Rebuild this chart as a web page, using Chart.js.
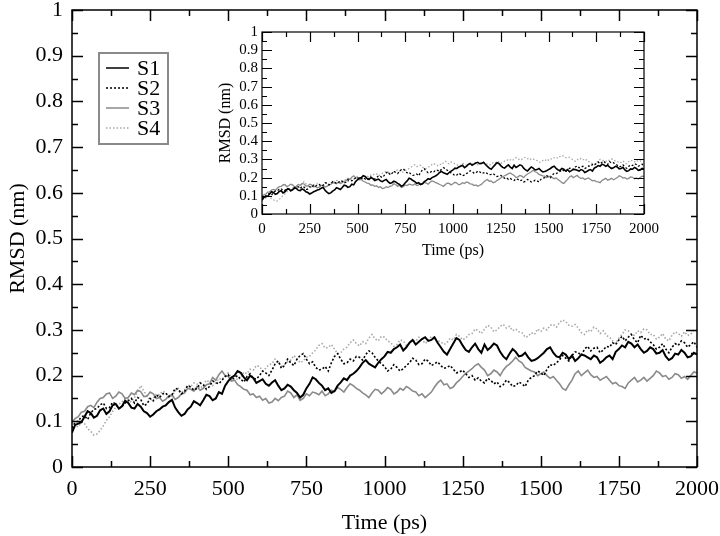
<!DOCTYPE html>
<html>
<head>
<meta charset="utf-8">
<script src="https://cdn.jsdelivr.net/npm/chart.js@4.4.0/dist/chart.umd.min.js"></script>
<style>
  html, body { margin: 0; padding: 0; background: #fff; }
  #wrap { position: relative; width: 720px; height: 536px; }
  #mainChart { position: absolute; left: 0; top: 0; }
  #insetChart { position: absolute; left: 205px; top: 20px; }
</style>
</head>
<body>
<div id="wrap">
  <canvas id="mainChart" width="720" height="536"></canvas>
  <canvas id="insetChart" width="470" height="240"></canvas>
</div>
<script>
// Sampling grid: one value every 10 ps, 0..2000
const times = [];
for (let i = 0; i <= 200; i++) times.push(i * 10);

const seriesNames = ['S1', 'S2', 'S3', 'S4'];

// RMSD (nm)
const s1 = [0.075, 0.092, 0.095, 0.098, 0.11, 0.122, 0.118, 0.108, 0.112, 0.124,
  0.128, 0.116, 0.122, 0.135, 0.138, 0.128, 0.133, 0.145, 0.14, 0.13,
  0.128, 0.138, 0.132, 0.122, 0.118, 0.11, 0.115, 0.122, 0.126, 0.132,
  0.135, 0.142, 0.147, 0.13, 0.12, 0.112, 0.116, 0.126, 0.132, 0.144,
  0.14, 0.135, 0.146, 0.158, 0.155, 0.146, 0.15, 0.164, 0.16, 0.178,
  0.188, 0.196, 0.2, 0.21, 0.206, 0.196, 0.19, 0.2, 0.195, 0.184,
  0.188, 0.192, 0.182, 0.178, 0.185, 0.19, 0.178, 0.168, 0.172, 0.18,
  0.176, 0.168, 0.162, 0.152, 0.158, 0.172, 0.182, 0.196, 0.192, 0.184,
  0.178, 0.168, 0.172, 0.162, 0.166, 0.178, 0.185, 0.194, 0.19, 0.2,
  0.204, 0.21, 0.218, 0.228, 0.234, 0.226, 0.222, 0.218, 0.228, 0.236,
  0.242, 0.252, 0.25, 0.258, 0.262, 0.268, 0.255, 0.262, 0.272, 0.278,
  0.268, 0.274, 0.28, 0.284, 0.276, 0.278, 0.284, 0.272, 0.262, 0.252,
  0.246, 0.258, 0.27, 0.282, 0.278, 0.266, 0.256, 0.252, 0.262, 0.27,
  0.258, 0.25, 0.268, 0.256, 0.262, 0.27, 0.266, 0.252, 0.242, 0.236,
  0.248, 0.258, 0.252, 0.242, 0.244, 0.25, 0.24, 0.232, 0.234, 0.238,
  0.244, 0.25, 0.258, 0.262, 0.25, 0.242, 0.24, 0.25, 0.246, 0.236,
  0.244, 0.232, 0.238, 0.246, 0.244, 0.24, 0.236, 0.244, 0.24, 0.228,
  0.233, 0.24, 0.244, 0.236, 0.252, 0.258, 0.266, 0.262, 0.274, 0.27,
  0.262, 0.268, 0.258, 0.25, 0.254, 0.262, 0.258, 0.248, 0.25, 0.256,
  0.242, 0.234, 0.238, 0.248, 0.246, 0.256, 0.25, 0.24, 0.242, 0.25,
  0.246];

const s2 = [0.085, 0.098, 0.1, 0.11, 0.112, 0.104, 0.118, 0.126, 0.128, 0.136,
  0.14, 0.128, 0.13, 0.142, 0.138, 0.128, 0.132, 0.14, 0.145, 0.15,
  0.14, 0.152, 0.148, 0.134, 0.138, 0.15, 0.145, 0.158, 0.152, 0.16,
  0.162, 0.154, 0.158, 0.172, 0.17, 0.16, 0.165, 0.178, 0.175, 0.168,
  0.172, 0.184, 0.18, 0.17, 0.176, 0.188, 0.185, 0.182, 0.19, 0.198,
  0.202, 0.19, 0.196, 0.2, 0.192, 0.186, 0.198, 0.204, 0.194, 0.192,
  0.2, 0.21, 0.206, 0.2, 0.212, 0.226, 0.232, 0.216, 0.222, 0.236,
  0.228, 0.222, 0.236, 0.244, 0.248, 0.236, 0.226, 0.23, 0.218, 0.212,
  0.214, 0.22, 0.21, 0.228, 0.242, 0.248, 0.236, 0.226, 0.228, 0.236,
  0.232, 0.242, 0.24, 0.234, 0.246, 0.254, 0.25, 0.24, 0.232, 0.226,
  0.22, 0.21, 0.214, 0.224, 0.218, 0.21, 0.215, 0.222, 0.228, 0.238,
  0.234, 0.224, 0.226, 0.236, 0.232, 0.222, 0.226, 0.23, 0.222, 0.216,
  0.218, 0.222, 0.214, 0.206, 0.208, 0.212, 0.204, 0.196, 0.2, 0.19,
  0.195, 0.188, 0.184, 0.194, 0.19, 0.182, 0.186, 0.176, 0.18, 0.19,
  0.185, 0.176, 0.178, 0.186, 0.182, 0.176, 0.19, 0.196, 0.2, 0.21,
  0.206, 0.2, 0.214, 0.224, 0.222, 0.228, 0.234, 0.244, 0.238, 0.232,
  0.244, 0.252, 0.25, 0.244, 0.258, 0.264, 0.254, 0.26, 0.262, 0.25,
  0.256, 0.264, 0.262, 0.272, 0.268, 0.278, 0.286, 0.276, 0.284, 0.29,
  0.278, 0.272, 0.288, 0.28, 0.282, 0.274, 0.268, 0.258, 0.262, 0.27,
  0.258, 0.25, 0.262, 0.27, 0.266, 0.276, 0.272, 0.262, 0.268, 0.274,
  0.262];

const s3 = [0.098, 0.106, 0.11, 0.12, 0.122, 0.132, 0.135, 0.13, 0.142, 0.15,
  0.152, 0.16, 0.162, 0.15, 0.155, 0.164, 0.16, 0.15, 0.152, 0.162,
  0.158, 0.168, 0.165, 0.154, 0.155, 0.164, 0.16, 0.15, 0.152, 0.144,
  0.148, 0.156, 0.158, 0.148, 0.152, 0.16, 0.162, 0.172, 0.17, 0.166,
  0.176, 0.168, 0.172, 0.18, 0.182, 0.196, 0.19, 0.202, 0.21, 0.2,
  0.198, 0.188, 0.19, 0.18, 0.176, 0.17, 0.168, 0.158, 0.16, 0.152,
  0.155, 0.146, 0.15, 0.14, 0.142, 0.15, 0.145, 0.152, 0.155, 0.166,
  0.162, 0.152, 0.158, 0.146, 0.15, 0.16, 0.156, 0.164, 0.162, 0.158,
  0.166, 0.156, 0.16, 0.168, 0.165, 0.174, 0.17, 0.164, 0.174, 0.182,
  0.178, 0.172, 0.168, 0.162, 0.158, 0.152, 0.162, 0.17, 0.168, 0.16,
  0.166, 0.174, 0.17, 0.16, 0.164, 0.172, 0.168, 0.176, 0.172, 0.166,
  0.164, 0.156, 0.16, 0.152, 0.158, 0.164, 0.175, 0.184, 0.19, 0.18,
  0.182, 0.172, 0.175, 0.184, 0.19, 0.198, 0.205, 0.21, 0.215, 0.222,
  0.226, 0.218, 0.212, 0.2, 0.204, 0.212, 0.208, 0.2, 0.212, 0.22,
  0.225, 0.232, 0.24, 0.232, 0.228, 0.218, 0.214, 0.21, 0.208, 0.2,
  0.204, 0.208, 0.2, 0.194, 0.198, 0.19, 0.182, 0.172, 0.168, 0.18,
  0.19, 0.204, 0.21, 0.2, 0.206, 0.212, 0.202, 0.196, 0.198, 0.19,
  0.194, 0.198, 0.19, 0.182, 0.185, 0.178, 0.176, 0.172, 0.184, 0.19,
  0.196, 0.186, 0.19, 0.196, 0.188, 0.194, 0.2, 0.21, 0.206, 0.198,
  0.2, 0.192, 0.196, 0.204, 0.202, 0.194, 0.198, 0.192, 0.2, 0.208,
  0.206];

const s4 = [0.08, 0.09, 0.088, 0.098, 0.095, 0.084, 0.078, 0.07, 0.072, 0.08,
  0.09, 0.102, 0.11, 0.122, 0.13, 0.138, 0.142, 0.15, 0.148, 0.142,
  0.152, 0.164, 0.178, 0.166, 0.155, 0.146, 0.15, 0.16, 0.158, 0.166,
  0.162, 0.152, 0.156, 0.166, 0.172, 0.162, 0.168, 0.18, 0.176, 0.184,
  0.182, 0.172, 0.178, 0.19, 0.186, 0.178, 0.184, 0.194, 0.192, 0.2,
  0.206, 0.196, 0.2, 0.19, 0.196, 0.208, 0.204, 0.214, 0.212, 0.222,
  0.22, 0.21, 0.216, 0.224, 0.226, 0.236, 0.23, 0.22, 0.224, 0.23,
  0.234, 0.244, 0.238, 0.228, 0.232, 0.24, 0.242, 0.25, 0.256, 0.266,
  0.27, 0.26, 0.262, 0.268, 0.258, 0.248, 0.25, 0.258, 0.262, 0.272,
  0.278, 0.27, 0.265, 0.274, 0.27, 0.282, 0.29, 0.28, 0.276, 0.286,
  0.284, 0.276, 0.272, 0.264, 0.268, 0.278, 0.276, 0.266, 0.27, 0.278,
  0.275, 0.284, 0.28, 0.27, 0.276, 0.286, 0.282, 0.276, 0.274, 0.268,
  0.272, 0.282, 0.278, 0.29, 0.286, 0.278, 0.282, 0.29, 0.292, 0.302,
  0.298, 0.292, 0.302, 0.31, 0.306, 0.296, 0.3, 0.308, 0.312, 0.304,
  0.308, 0.298, 0.302, 0.296, 0.294, 0.284, 0.286, 0.294, 0.29, 0.302,
  0.296, 0.304, 0.3, 0.31, 0.312, 0.306, 0.316, 0.322, 0.318, 0.31,
  0.308, 0.312, 0.304, 0.294, 0.29, 0.3, 0.296, 0.306, 0.302, 0.292,
  0.298, 0.288, 0.284, 0.276, 0.27, 0.282, 0.29, 0.3, 0.298, 0.29,
  0.288, 0.298, 0.294, 0.302, 0.3, 0.29, 0.29, 0.28, 0.284, 0.292,
  0.28, 0.276, 0.288, 0.296, 0.292, 0.286, 0.296, 0.288, 0.29, 0.3,
  0.298];

// Tick labels
const xTickValues = [0, 250, 500, 750, 1000, 1250, 1500, 1750, 2000];
const yTickValues = [0, 0.1, 0.2, 0.3, 0.4, 0.5, 0.6, 0.7, 0.8, 0.9, 1];

const allSeries = [s1, s2, s3, s4];
const lineColors = ['#000000', '#000000', '#8a8a8a', '#a8a8a8'];
const lineDashes = [[], [2, 2], [], [1.5, 2]];
const lineWidths = [2, 1.6, 1.6, 1.6];

function makeDatasets(scale) {
  return allSeries.map((vals, i) => ({
    label: seriesNames[i],
    data: vals.map((v, k) => ({ x: times[k], y: v })),
    borderColor: lineColors[i],
    borderDash: lineDashes[i],
    borderWidth: lineWidths[i] * scale,
    pointRadius: 0,
    tension: 0
  }));
}

// Frame with inward ticks on all four sides
const frameTicks = {
  id: 'frameTicks',
  afterDraw(chart, args, opts) {
    const { ctx, chartArea: a, scales: { x, y } } = chart;
    ctx.save();
    ctx.strokeStyle = '#000';
    ctx.lineWidth = opts.lineWidth;
    ctx.strokeRect(a.left, a.top, a.right - a.left, a.bottom - a.top);
    ctx.beginPath();
    for (let v = 0; v <= 2000; v += 125) {
      const px = Math.round(x.getPixelForValue(v)) + 0.5;
      const len = v % 250 === 0 ? opts.major : opts.minor;
      ctx.moveTo(px, a.bottom); ctx.lineTo(px, a.bottom - len);
      ctx.moveTo(px, a.top); ctx.lineTo(px, a.top + len);
    }
    for (let k = 0; k <= 20; k++) {
      const py = Math.round(y.getPixelForValue(k * 0.05)) + 0.5;
      const len = k % 2 === 0 ? opts.major : opts.minor;
      ctx.moveTo(a.left, py); ctx.lineTo(a.left + len, py);
      ctx.moveTo(a.right, py); ctx.lineTo(a.right - len, py);
    }
    ctx.stroke();
    ctx.restore();
  }
};

// Boxed legend in the upper left of the main plot
const boxLegend = {
  id: 'boxLegend',
  afterDraw(chart) {
    const ctx = chart.ctx;
    ctx.save();
    ctx.strokeStyle = '#8a8a8a';
    ctx.lineWidth = 2;
    ctx.strokeRect(99, 53, 69, 91);
    ctx.font = '22px "Liberation Serif", "Times New Roman", serif';
    ctx.textBaseline = 'middle';
    ctx.fillStyle = '#000';
    chart.data.datasets.forEach((ds, i) => {
      const yy = 68 + i * 20;
      ctx.strokeStyle = ds.borderColor;
      ctx.setLineDash(ds.borderDash);
      ctx.lineWidth = 1.5;
      ctx.beginPath();
      ctx.moveTo(106, yy);
      ctx.lineTo(129, yy);
      ctx.stroke();
      ctx.setLineDash([]);
      ctx.fillText(ds.label, 137, yy + 1);
    });
    ctx.restore();
  }
};

function noEdgePadding(s) {
  s.paddingLeft = 0; s.paddingRight = 0; s.paddingTop = 0; s.paddingBottom = 0;
}

function axisOptions(cfg) {
  const font = { family: '"Liberation Serif", "Times New Roman", serif', size: cfg.tickSize };
  const titleFont = { family: '"Liberation Serif", "Times New Roman", serif', size: cfg.titleSize };
  return {
    x: {
      type: 'linear', min: 0, max: 2000,
      grid: { display: false, drawTicks: false },
      border: { display: false },
      afterBuildTicks: s => { s.ticks = xTickValues.map(v => ({ value: v })); },
      afterFit: s => { s.height = cfg.xHeight; noEdgePadding(s); },
      ticks: { color: '#000', font: font, padding: cfg.xPad, maxRotation: 0, autoSkip: false, callback: v => String(v) },
      title: { display: true, text: 'Time (ps)', color: '#000', font: titleFont, padding: { top: cfg.xTitlePad, bottom: 0 } }
    },
    y: {
      type: 'linear', min: 0, max: 1,
      grid: { display: false, drawTicks: false },
      border: { display: false },
      afterBuildTicks: s => { s.ticks = yTickValues.map(v => ({ value: v })); },
      afterFit: s => { s.width = cfg.yWidth; noEdgePadding(s); },
      ticks: { color: '#000', font: font, padding: cfg.yPad, autoSkip: false, callback: v => String(+v.toFixed(1)) },
      title: { display: true, text: 'RMSD (nm)', color: '#000', font: titleFont, padding: { top: cfg.yTitlePad, bottom: 0 } }
    }
  };
}

new Chart(document.getElementById('mainChart'), {
  type: 'line',
  data: { datasets: makeDatasets(1) },
  options: {
    responsive: false,
    animation: false,
    layout: { padding: { top: 10, right: 23, left: 0, bottom: 0 } },
    plugins: {
      legend: { display: false },
      tooltip: { enabled: false },
      frameTicks: { lineWidth: 1.5, major: 11, minor: 6 }
    },
    scales: axisOptions({ tickSize: 22, titleSize: 22, xHeight: 69, yWidth: 72, xPad: 9, yPad: 9, xTitlePad: 6, yTitlePad: 5 })
  },
  plugins: [frameTicks, boxLegend]
});

new Chart(document.getElementById('insetChart'), {
  type: 'line',
  data: { datasets: makeDatasets(0.8) },
  options: {
    responsive: false,
    animation: false,
    layout: { padding: { top: 12, right: 31, left: 0, bottom: 0 } },
    plugins: {
      legend: { display: false },
      tooltip: { enabled: false },
      frameTicks: { lineWidth: 1.2, major: 10, minor: 5 }
    },
    scales: axisOptions({ tickSize: 15, titleSize: 16, xHeight: 46, yWidth: 57, xPad: 6, yPad: 4, xTitlePad: 7, yTitlePad: 11 })
  },
  plugins: [frameTicks]
});
</script>
</body>
</html>
